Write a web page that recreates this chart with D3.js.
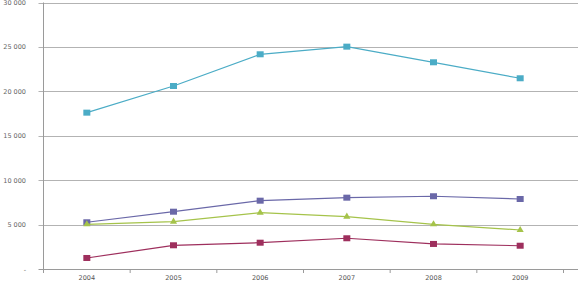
<!DOCTYPE html>
<html>
<head>
<meta charset="utf-8">
<script src="https://cdn.jsdelivr.net/npm/d3@7"></script>
<style>
  body { margin: 0; background: #fff; }
  svg { display: block; }
</style>
</head>
<body>
<div id="chart"><svg></svg></div>
<script>
// chart data
const years = ["2004", "2005", "2006", "2007", "2008", "2009"];
const seriesTop = [17600, 20600, 24170, 25030, 23270, 21470];     // cyan squares
const seriesPurple = [5260, 6450, 7690, 8030, 8190, 7880];        // purple squares
const seriesGreen = [5030, 5330, 6340, 5890, 5030, 4390];         // green triangles
const seriesRed = [1240, 2670, 2960, 3460, 2820, 2620];           // maroon squares
const yTicks = [0, 5000, 10000, 15000, 20000, 25000, 30000];

const w = 578, h = 281;
const plotLeft = 43.5, plotTop = 2.5, plotBottom = 269, bandRight = 563.5;

const svg = d3.select("#chart svg").attr("width", w).attr("height", h);

const x = d3.scaleBand().domain(years).range([plotLeft, bandRight]);
const y = d3.scaleLinear().domain([0, 30000]).range([plotBottom, plotTop]);

// number format like "25 000", zero shown as "-"
const fmt = d => d === 0 ? "-" : d3.format(",")(d).replace(/,/g, " ");

// gridlines
svg.append("g")
  .selectAll("line")
  .data(yTicks.filter(d => d > 0))
  .join("line")
  .attr("x1", plotLeft - 5).attr("x2", w)
  .attr("y1", d => Math.round(y(d)) + 0.5).attr("y2", d => Math.round(y(d)) + 0.5)
  .attr("stroke", "#b3b3b3").attr("stroke-width", 1);

// y axis line
svg.append("line")
  .attr("x1", plotLeft).attr("x2", plotLeft)
  .attr("y1", plotTop).attr("y2", plotBottom + 4)
  .attr("stroke", "#9a9a9a");

// x axis line
svg.append("line")
  .attr("x1", plotLeft - 5).attr("x2", w)
  .attr("y1", Math.round(plotBottom) + 0.5).attr("y2", Math.round(plotBottom) + 0.5)
  .attr("stroke", "#9a9a9a");

// x tick marks between categories
svg.append("g")
  .selectAll("line")
  .data(years)
  .join("line")
  .attr("x1", (d, i) => plotLeft + x.step() * (i + 1))
  .attr("x2", (d, i) => plotLeft + x.step() * (i + 1))
  .attr("y1", plotBottom).attr("y2", plotBottom + 4)
  .attr("stroke", "#9a9a9a");

// y labels
svg.append("g")
  .selectAll("text")
  .data(yTicks)
  .join("text")
  .attr("x", 26)
  .attr("y", d => y(d) + 2.5)
  .attr("text-anchor", "end")
  .attr("font-family", "DejaVu Sans, sans-serif")
  .attr("font-size", 6.5)
  .attr("fill", "#666")
  .text(fmt);

// x labels
svg.append("g")
  .selectAll("text")
  .data(years)
  .join("text")
  .attr("x", d => x(d) + x.bandwidth() / 2)
  .attr("y", 280)
  .attr("text-anchor", "middle")
  .attr("font-family", "DejaVu Sans, sans-serif")
  .attr("font-size", 6.5)
  .attr("fill", "#555")
  .text(d => d);

const series = [
  { values: seriesTop, color: "#4bacc6", marker: "square" },
  { values: seriesPurple, color: "#6a68a8", marker: "square" },
  { values: seriesGreen, color: "#a5c34a", marker: "triangle" },
  { values: seriesRed, color: "#9e2f5d", marker: "square" }
];

const line = d3.line()
  .x((d, i) => x(years[i]) + x.bandwidth() / 2)
  .y(d => y(d));

series.forEach(s => {
  const g = svg.append("g");
  g.append("path")
    .datum(s.values)
    .attr("d", line)
    .attr("fill", "none")
    .attr("stroke", s.color)
    .attr("stroke-width", 1.2);

  if (s.marker === "square") {
    g.selectAll("rect")
      .data(s.values)
      .join("rect")
      .attr("x", (d, i) => x(years[i]) + x.bandwidth() / 2 - 3.5)
      .attr("y", d => y(d) - 3)
      .attr("width", 7).attr("height", 6)
      .attr("fill", s.color);
  } else {
    const tri = d3.symbol().type(d3.symbolTriangle).size(22);
    g.selectAll("path.m")
      .data(s.values)
      .join("path")
      .attr("class", "m")
      .attr("d", tri)
      .attr("transform", (d, i) => `translate(${x(years[i]) + x.bandwidth() / 2},${y(d)})`)
      .attr("fill", s.color);
  }
});
</script>
</body>
</html>
